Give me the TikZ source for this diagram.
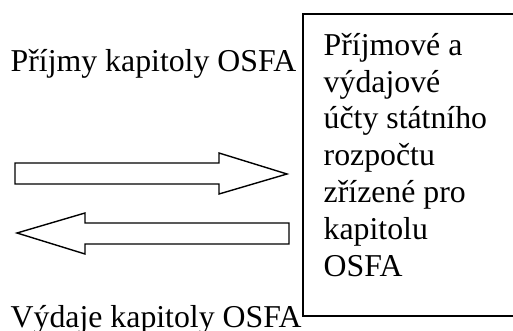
\documentclass[tikz,border=0pt]{standalone}
\usepackage{fontspec}
\setmainfont{Liberation Serif}
\begin{document}
\begin{tikzpicture}[x=1pt, y=-1pt, line width=1.4pt,
    txt/.style={anchor=base west, inner sep=0pt, font=\fontsize{31.8}{36.8}\selectfont}]
     \clip (0,0) rectangle (513,331);
     \coordinate (B1) at (303,14);
     \coordinate (B2) at (525,316);
     \draw (B1) rectangle (B2);
     \node[txt, align=left] (ucty) at (323,276) {Příjmové a\\výdajové\\účty státního\\rozpočtu\\zřízené pro\\kapitolu\\OSFA};
     \node[txt] (prijmy) at (10,72) {Příjmy kapitoly OSFA};
     \node[txt] (vydaje) at (10,327) {Výdaje kapitoly OSFA};
     \draw (15,163) -- (219,163) -- (219,153) -- (287,174) -- (219,194) -- (219,184) -- (15,184) -- cycle;
     \draw (289,223) -- (85,223) -- (85,213) -- (17,233) -- (85,254) -- (85,244) -- (289,244) -- cycle;
 \end{tikzpicture}
\end{document}
